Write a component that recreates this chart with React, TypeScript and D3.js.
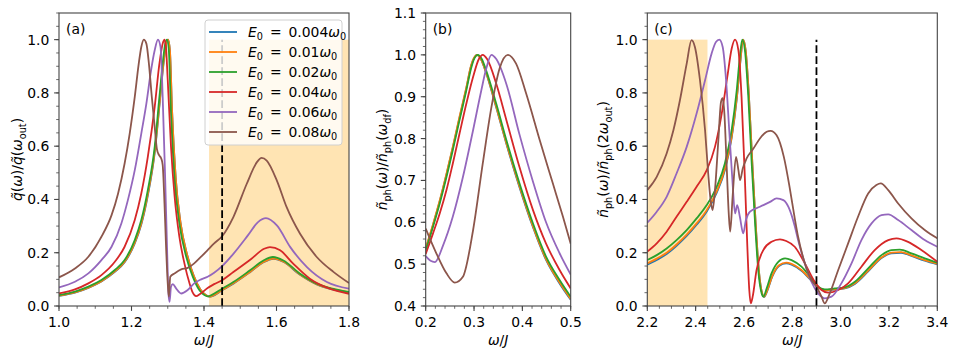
import React from "react";
import * as d3 from "d3";

type Pt = [number, number];
type Seg = [string, string];

// ---- data ----
const energies = ["0.004", "0.01", "0.02", "0.04", "0.06", "0.08"];
const colors = ["#1f77b4", "#ff7f0e", "#2ca02c", "#d62728", "#9467bd", "#8c564b"];

const aTicksX = [1.0, 1.2, 1.4, 1.6, 1.8];
const aTicksY = [0.0, 0.2, 0.4, 0.6, 0.8, 1.0];
const bTicksX = [0.2, 0.3, 0.4, 0.5];
const bTicksY = [0.4, 0.5, 0.6, 0.7, 0.8, 0.9, 1.0, 1.1];
const cTicksX = [2.2, 2.4, 2.6, 2.8, 3.0, 3.2, 3.4];
const cTicksY = [0.0, 0.2, 0.4, 0.6, 0.8, 1.0];

// panel (a)
const aBlue: Pt[] = [[1.0,0.038],[1.044,0.05],[1.081,0.068],[1.117,0.092],[1.154,0.128],[1.181,0.164],[1.209,0.235],[1.227,0.306],[1.245,0.415],[1.264,0.575],[1.278,0.765],[1.288,0.905],[1.296,0.983],[1.301,1.0],[1.306,0.958],[1.312,0.73],[1.322,0.48],[1.335,0.315],[1.354,0.19],[1.372,0.112],[1.39,0.062],[1.404,0.042],[1.414,0.035],[1.423,0.037],[1.45,0.059],[1.481,0.084],[1.527,0.127],[1.564,0.164],[1.592,0.177],[1.62,0.165],[1.665,0.117],[1.711,0.081],[1.755,0.062],[1.8,0.05]];
const aOrange: Pt[] = [[1.0,0.039],[1.044,0.051],[1.081,0.069],[1.117,0.093],[1.154,0.13],[1.181,0.166],[1.209,0.238],[1.227,0.31],[1.245,0.42],[1.264,0.58],[1.278,0.77],[1.288,0.91],[1.296,0.985],[1.301,1.0],[1.306,0.96],[1.312,0.73],[1.322,0.48],[1.335,0.315],[1.354,0.19],[1.372,0.112],[1.39,0.062],[1.404,0.042],[1.414,0.035],[1.423,0.038],[1.45,0.06],[1.481,0.085],[1.527,0.128],[1.564,0.165],[1.592,0.178],[1.62,0.166],[1.665,0.118],[1.711,0.082],[1.755,0.063],[1.8,0.051]];
const aGreen: Pt[] = [[1.0,0.041],[1.044,0.054],[1.081,0.0725],[1.117,0.0975],[1.154,0.135],[1.181,0.1725],[1.209,0.2475],[1.227,0.3225],[1.245,0.435],[1.264,0.5975],[1.277,0.785],[1.286,0.91],[1.293,0.985],[1.298,1.0],[1.303,0.96],[1.309,0.7225],[1.319,0.4725],[1.332,0.31],[1.351,0.185],[1.369,0.11],[1.387,0.06],[1.401,0.041],[1.41,0.036],[1.419,0.04],[1.45,0.065],[1.481,0.09],[1.527,0.134],[1.564,0.171],[1.59,0.184],[1.619,0.171],[1.665,0.121],[1.711,0.084],[1.755,0.065],[1.8,0.0525]];
const aRed: Pt[] = [[1.0,0.0475],[1.044,0.0625],[1.081,0.085],[1.117,0.116],[1.154,0.166],[1.181,0.2225],[1.209,0.3225],[1.227,0.4225],[1.245,0.56],[1.264,0.7475],[1.277,0.91],[1.286,0.985],[1.291,1.0],[1.295,0.9725],[1.3,0.8475],[1.309,0.5975],[1.319,0.41],[1.332,0.26],[1.346,0.16],[1.36,0.085],[1.369,0.05],[1.378,0.037],[1.389,0.045],[1.41,0.068],[1.428,0.082],[1.45,0.097],[1.481,0.1275],[1.531,0.1775],[1.566,0.215],[1.582,0.221],[1.61,0.209],[1.646,0.159],[1.692,0.1025],[1.747,0.065],[1.8,0.046]];
const aPurple: Pt[] = [[1.0,0.07],[1.044,0.091],[1.081,0.1225],[1.117,0.1725],[1.145,0.2225],[1.172,0.31],[1.19,0.3975],[1.209,0.51],[1.227,0.6475],[1.241,0.76],[1.254,0.885],[1.264,0.96],[1.273,1.0],[1.28,0.9725],[1.286,0.785],[1.293,0.4725],[1.298,0.2225],[1.302,0.0475],[1.305,0.016],[1.309,0.0725],[1.314,0.0825],[1.323,0.066],[1.337,0.047],[1.355,0.06],[1.373,0.085],[1.392,0.1],[1.41,0.11],[1.428,0.125],[1.45,0.15],[1.481,0.196],[1.521,0.265],[1.549,0.315],[1.571,0.33],[1.601,0.3025],[1.638,0.221],[1.684,0.146],[1.739,0.09],[1.8,0.065]];
const aBrown: Pt[] = [[1.0,0.1075],[1.044,0.141],[1.081,0.185],[1.117,0.26],[1.145,0.341],[1.163,0.4225],[1.181,0.535],[1.195,0.6475],[1.209,0.785],[1.22,0.91],[1.227,0.9725],[1.234,1.0],[1.241,0.985],[1.248,0.91],[1.256,0.785],[1.264,0.6725],[1.27,0.59],[1.276,0.566],[1.282,0.554],[1.286,0.53],[1.291,0.385],[1.295,0.235],[1.3,0.085],[1.303,0.035],[1.307,0.11],[1.319,0.1225],[1.337,0.1375],[1.355,0.143],[1.373,0.16],[1.392,0.185],[1.41,0.21],[1.428,0.235],[1.45,0.262],[1.481,0.334],[1.518,0.459],[1.546,0.54],[1.559,0.556],[1.573,0.546],[1.601,0.471],[1.628,0.371],[1.665,0.271],[1.711,0.184],[1.757,0.128],[1.8,0.086]];

// panel (b)
const bBlue: Pt[] = [[0.2,0.536],[0.215,0.593],[0.229,0.65],[0.243,0.714],[0.256,0.778],[0.27,0.85],[0.284,0.92],[0.294,0.974],[0.3,0.992],[0.306,1.0],[0.314,0.99],[0.325,0.957],[0.346,0.874],[0.367,0.787],[0.394,0.684],[0.422,0.588],[0.449,0.51],[0.477,0.454],[0.5,0.415]];
const bOrange: Pt[] = [[0.2,0.538],[0.215,0.595],[0.229,0.652],[0.243,0.716],[0.256,0.78],[0.27,0.852],[0.284,0.922],[0.294,0.975],[0.3,0.993],[0.306,1.0],[0.314,0.99],[0.325,0.958],[0.346,0.876],[0.367,0.789],[0.394,0.686],[0.422,0.59],[0.449,0.512],[0.477,0.456],[0.5,0.417]];
const bGreen: Pt[] = [[0.2,0.533],[0.215,0.589],[0.229,0.645],[0.243,0.708],[0.256,0.772],[0.27,0.844],[0.284,0.915],[0.294,0.968],[0.3,0.99],[0.308,1.0],[0.316,0.99],[0.325,0.963],[0.346,0.883],[0.367,0.796],[0.394,0.693],[0.422,0.597],[0.449,0.518],[0.477,0.462],[0.5,0.422]];
const bRed: Pt[] = [[0.2,0.524],[0.215,0.573],[0.229,0.621],[0.243,0.677],[0.256,0.74],[0.27,0.812],[0.284,0.883],[0.298,0.947],[0.31,0.99],[0.318,1.0],[0.327,0.99],[0.346,0.931],[0.367,0.844],[0.394,0.732],[0.422,0.629],[0.449,0.549],[0.477,0.486],[0.5,0.442]];
const bPurple: Pt[] = [[0.2,0.519],[0.21,0.508],[0.219,0.505],[0.236,0.545],[0.256,0.613],[0.277,0.708],[0.298,0.82],[0.315,0.915],[0.325,0.966],[0.336,1.0],[0.346,0.99],[0.367,0.93],[0.394,0.81],[0.422,0.697],[0.449,0.6],[0.477,0.526],[0.5,0.475]];
const bBrown: Pt[] = [[0.2,0.585],[0.222,0.526],[0.243,0.478],[0.26,0.456],[0.277,0.47],[0.298,0.581],[0.318,0.74],[0.336,0.875],[0.353,0.968],[0.37,1.0],[0.387,0.979],[0.408,0.907],[0.436,0.796],[0.463,0.693],[0.484,0.613],[0.5,0.549]];

// panel (c)
const cBlue: Pt[] = [[2.2,0.155],[2.239,0.173],[2.28,0.195],[2.321,0.226],[2.363,0.263],[2.404,0.305],[2.446,0.355],[2.487,0.425],[2.521,0.51],[2.549,0.63],[2.57,0.775],[2.585,0.915],[2.596,1.0],[2.607,0.96],[2.621,0.78],[2.635,0.53],[2.649,0.3],[2.662,0.13],[2.676,0.045],[2.683,0.034],[2.697,0.058],[2.717,0.11],[2.745,0.15],[2.775,0.16],[2.797,0.155],[2.838,0.132],[2.879,0.095],[2.907,0.069],[2.934,0.059],[2.976,0.062],[3.017,0.066],[3.059,0.083],[3.114,0.13],[3.169,0.18],[3.21,0.198],[3.25,0.2],[3.293,0.188],[3.348,0.17],[3.4,0.156]];
const cOrange: Pt[] = [[2.2,0.16],[2.239,0.178],[2.28,0.2],[2.321,0.231],[2.363,0.268],[2.404,0.31],[2.446,0.36],[2.487,0.43],[2.521,0.515],[2.549,0.635],[2.57,0.78],[2.585,0.92],[2.596,1.0],[2.607,0.96],[2.621,0.78],[2.635,0.53],[2.649,0.3],[2.662,0.13],[2.676,0.045],[2.683,0.035],[2.697,0.06],[2.717,0.112],[2.745,0.153],[2.775,0.163],[2.797,0.158],[2.838,0.135],[2.879,0.097],[2.907,0.07],[2.934,0.06],[2.976,0.063],[3.017,0.067],[3.059,0.085],[3.114,0.133],[3.169,0.182],[3.21,0.2],[3.25,0.202],[3.293,0.19],[3.348,0.172],[3.4,0.158]];
const cGreen: Pt[] = [[2.2,0.1725],[2.239,0.191],[2.28,0.216],[2.321,0.2475],[2.363,0.285],[2.404,0.329],[2.446,0.379],[2.487,0.4475],[2.521,0.535],[2.549,0.66],[2.57,0.81],[2.583,0.935],[2.593,1.0],[2.604,0.96],[2.618,0.785],[2.632,0.535],[2.646,0.31],[2.659,0.135],[2.673,0.0475],[2.68,0.035],[2.694,0.066],[2.714,0.1225],[2.742,0.166],[2.77,0.179],[2.797,0.1725],[2.838,0.1475],[2.879,0.104],[2.907,0.0725],[2.934,0.0625],[2.976,0.066],[3.017,0.07],[3.059,0.091],[3.114,0.141],[3.169,0.191],[3.21,0.21],[3.245,0.212],[3.293,0.1975],[3.348,0.179],[3.4,0.1625]];
const cRed: Pt[] = [[2.2,0.204],[2.239,0.235],[2.28,0.279],[2.321,0.335],[2.363,0.391],[2.404,0.4475],[2.446,0.51],[2.48,0.5975],[2.508,0.7225],[2.531,0.86],[2.549,0.966],[2.563,1.0],[2.577,0.96],[2.59,0.785],[2.604,0.4725],[2.614,0.2225],[2.622,0.06],[2.628,0.01],[2.636,0.035],[2.652,0.135],[2.68,0.21],[2.714,0.241],[2.749,0.25],[2.775,0.244],[2.81,0.2225],[2.852,0.16],[2.893,0.091],[2.921,0.06],[2.948,0.05],[2.99,0.06],[3.031,0.085],[3.086,0.1475],[3.141,0.21],[3.197,0.2475],[3.231,0.254],[3.279,0.241],[3.334,0.21],[3.4,0.166]];
const cPurple: Pt[] = [[2.2,0.3125],[2.239,0.354],[2.28,0.41],[2.321,0.4975],[2.363,0.5975],[2.404,0.7225],[2.439,0.8475],[2.466,0.9475],[2.484,0.991],[2.498,1.0],[2.512,0.9725],[2.526,0.8475],[2.539,0.66],[2.553,0.46],[2.563,0.3475],[2.572,0.379],[2.583,0.335],[2.597,0.2725],[2.608,0.3225],[2.625,0.354],[2.666,0.3725],[2.708,0.391],[2.735,0.404],[2.763,0.3975],[2.785,0.37],[2.81,0.3],[2.824,0.2475],[2.852,0.16],[2.879,0.091],[2.907,0.0475],[2.934,0.029],[2.962,0.035],[3.003,0.085],[3.045,0.16],[3.086,0.2475],[3.128,0.31],[3.169,0.341],[3.197,0.344],[3.238,0.3225],[3.293,0.285],[3.348,0.2475],[3.4,0.2225]];
const cBrown: Pt[] = [[2.2,0.435],[2.239,0.485],[2.28,0.5725],[2.308,0.66],[2.335,0.7725],[2.363,0.91],[2.383,0.998],[2.397,0.9725],[2.418,0.8475],[2.439,0.66],[2.452,0.4975],[2.462,0.3975],[2.47,0.36],[2.48,0.435],[2.494,0.6225],[2.505,0.766],[2.512,0.78],[2.519,0.7225],[2.528,0.535],[2.537,0.3475],[2.543,0.279],[2.553,0.41],[2.567,0.56],[2.577,0.51],[2.584,0.4725],[2.595,0.516],[2.611,0.554],[2.639,0.591],[2.666,0.629],[2.694,0.654],[2.71,0.6575],[2.735,0.641],[2.765,0.56],[2.79,0.44],[2.81,0.33],[2.824,0.26],[2.852,0.16],[2.879,0.0975],[2.9,0.0725],[2.921,0.035],[2.934,0.01],[2.955,0.0475],[2.99,0.135],[3.031,0.235],[3.072,0.335],[3.114,0.4225],[3.148,0.454],[3.166,0.46],[3.197,0.435],[3.238,0.385],[3.293,0.329],[3.348,0.285],[3.4,0.254]];

// ---- drawing ----
const FS = 13.9;
const FONT = "DejaVu Sans, sans-serif";
const TOP = 13;
const BOTTOM = 306;

function MathText({ segs, ...rest }: { segs: Seg[] } & React.SVGProps<SVGTextElement>) {
  let inSub = false;
  return (
    <text {...rest} style={{ whiteSpace: "pre" }}>
      {segs.map(([t, st], k) => {
        const sub = st.includes("s");
        const dy = sub && !inSub ? 3.6 : !sub && inSub ? -3.6 : 0;
        inSub = sub;
        return (
          <tspan key={k} dy={dy || undefined} fontStyle={st.includes("i") ? "italic" : "normal"}
            fontSize={sub ? FS * 0.7 : undefined}>{t}</tspan>
        );
      })}
    </text>
  );
}

const minorTicks = (lo: number, hi: number, step: number) =>
  d3.range(Math.ceil(lo / step - 1e-6), Math.floor(hi / step + 1e-6) + 1).map((k) => k * step);

interface PanelProps {
  id: string;
  left: number;
  right: number;
  xDom: [number, number];
  yDom: [number, number];
  xTicks: number[];
  yTicks: number[];
  xMinor: number;
  yMinor: number;
  series: Pt[][];
  shade?: [number, number];
  dash?: number;
  tag: string;
  ylabel: Seg[];
  ylabelX: number;
}

function Panel(p: PanelProps) {
  const x = d3.scaleLinear().domain(p.xDom).range([p.left, p.right]);
  const y = d3.scaleLinear().domain(p.yDom).range([BOTTOM, TOP]);
  const line = d3.line<Pt>().x((d) => x(d[0])).y((d) => y(d[1])).curve(d3.curveMonotoneX);
  const fmt = d3.format(".1f");
  const tc = "#444";
  return (
    <g fontFamily={FONT} fontSize={FS}>
      <defs>
        <clipPath id={"clip-" + p.id}>
          <rect x={p.left} y={TOP} width={p.right - p.left} height={BOTTOM - TOP} />
        </clipPath>
      </defs>
      {p.shade && (
        <rect x={x(p.shade[0])} y={y(1)} width={x(p.shade[1]) - x(p.shade[0])} height={y(0) - y(1)}
          fill="#ffe4b3" clipPath={`url(#clip-${p.id})`} />
      )}
      <g clipPath={`url(#clip-${p.id})`} fill="none" strokeWidth={1.8} strokeLinejoin="round">
        {p.series.map((s, i) => (
          <path key={i} d={line(s) || ""} stroke={colors[i]} />
        ))}
      </g>
      {p.dash !== undefined && (
        <line x1={x(p.dash)} x2={x(p.dash)} y1={y(0)} y2={y(1)} stroke="#000" strokeWidth={1.8}
          strokeDasharray="7.7,3.3" />
      )}
      <rect x={p.left} y={TOP} width={p.right - p.left} height={BOTTOM - TOP} fill="none"
        stroke={tc} strokeWidth={1.1} />
      {minorTicks(p.xDom[0], p.xDom[1], p.xMinor).map((v, i) => (
        <line key={"xm" + i} x1={x(v)} x2={x(v)} y1={BOTTOM} y2={BOTTOM + 2.8} stroke={tc} strokeWidth={0.8} />
      ))}
      {minorTicks(p.yDom[0], p.yDom[1], p.yMinor).map((v, i) => (
        <line key={"ym" + i} x1={p.left - 2.8} x2={p.left} y1={y(v)} y2={y(v)} stroke={tc} strokeWidth={0.8} />
      ))}
      {p.xTicks.map((v, i) => (
        <g key={"xt" + i}>
          <line x1={x(v)} x2={x(v)} y1={BOTTOM} y2={BOTTOM + 4.9} stroke={tc} strokeWidth={1.1} />
          <text x={x(v)} y={BOTTOM + 20.5} textAnchor="middle">{fmt(v)}</text>
        </g>
      ))}
      {p.yTicks.map((v, i) => (
        <g key={"yt" + i}>
          <line x1={p.left - 4.9} x2={p.left} y1={y(v)} y2={y(v)} stroke={tc} strokeWidth={1.1} />
          <text x={p.left - 9.7} y={y(v) + 5} textAnchor="end">{fmt(v)}</text>
        </g>
      ))}
      <text x={p.left + 7} y={TOP + 21}>{p.tag}</text>
      <MathText x={(p.left + p.right) / 2} y={345} textAnchor="middle"
        segs={[["ω", "i"], ["/", ""], ["J", "i"]]} />
      <MathText transform={`translate(${p.ylabelX},${(TOP + BOTTOM) / 2}) rotate(-90)`} textAnchor="middle"
        segs={p.ylabel} />
    </g>
  );
}

function Legend() {
  const x0 = 205, y0 = 20, w = 137, h = 125;
  return (
    <g fontFamily={FONT} fontSize={FS}>
      <rect x={x0} y={y0} width={w} height={h} rx={3} fill="#fff" fillOpacity={0.8} stroke="#d0d0d0" strokeWidth={1} />
      {energies.map((e, i) => {
        const cy = y0 + 12 + i * 20;
        return (
          <g key={i}>
            <line x1={x0 + 4} x2={x0 + 32} y1={cy} y2={cy} stroke={colors[i]} strokeWidth={1.8} />
            <MathText x={x0 + 43} y={cy + 4.5}
              segs={[["E", "i"], ["0", "s"], ["\u2002=\u2002" + e, ""], ["ω", "i"], ["0", "s"]]} />
          </g>
        );
      })}
    </g>
  );
}

export default function App() {
  return (
    <svg width={957} height={354} style={{ position: "absolute", left: 0, top: 0, background: "#fff" }}>
      <rect width={957} height={354} fill="#fff" />
      <Panel id="a" left={59} right={349} xDom={[1.0, 1.8]} yDom={[0, 1.1]} xTicks={aTicksX} yTicks={aTicksY}
        xMinor={0.05} yMinor={0.05} series={[aBlue, aOrange, aGreen, aRed, aPurple, aBrown]}
        shade={[1.414, 1.8]} dash={1.45} tag="(a)" ylabelX={22}
        ylabel={[["q̃", "i"], ["(", ""], ["ω", "i"], [")/", ""], ["q̃", "i"], ["(", ""], ["ω", "i"], ["out", "s"], [")", ""]]} />
      <Panel id="b" left={425.7} right={570.7} xDom={[0.2, 0.5]} yDom={[0.4, 1.1]} xTicks={bTicksX} yTicks={bTicksY}
        xMinor={0.02} yMinor={0.02} series={[bBlue, bOrange, bGreen, bRed, bPurple, bBrown]}
        tag="(b)" ylabelX={387}
        ylabel={[["ñ", "i"], ["ph", "s"], ["(", ""], ["ω", "i"], [")/", ""], ["ñ", "i"], ["ph", "s"], ["(", ""], ["ω", "i"], ["df", "s"], [")", ""]]} />
      <Panel id="c" left={647.3} right={937.3} xDom={[2.2, 3.4]} yDom={[0, 1.1]} xTicks={cTicksX} yTicks={cTicksY}
        xMinor={0.05} yMinor={0.05} series={[cBlue, cOrange, cGreen, cRed, cPurple, cBrown]}
        shade={[2.2, 2.449]} dash={2.9} tag="(c)" ylabelX={608}
        ylabel={[["ñ", "i"], ["ph", "s"], ["(", ""], ["ω", "i"], [")/", ""], ["ñ", "i"], ["ph", "s"], ["(2", ""], ["ω", "i"], ["out", "s"], [")", ""]]} />
      <Legend />
    </svg>
  );
}
